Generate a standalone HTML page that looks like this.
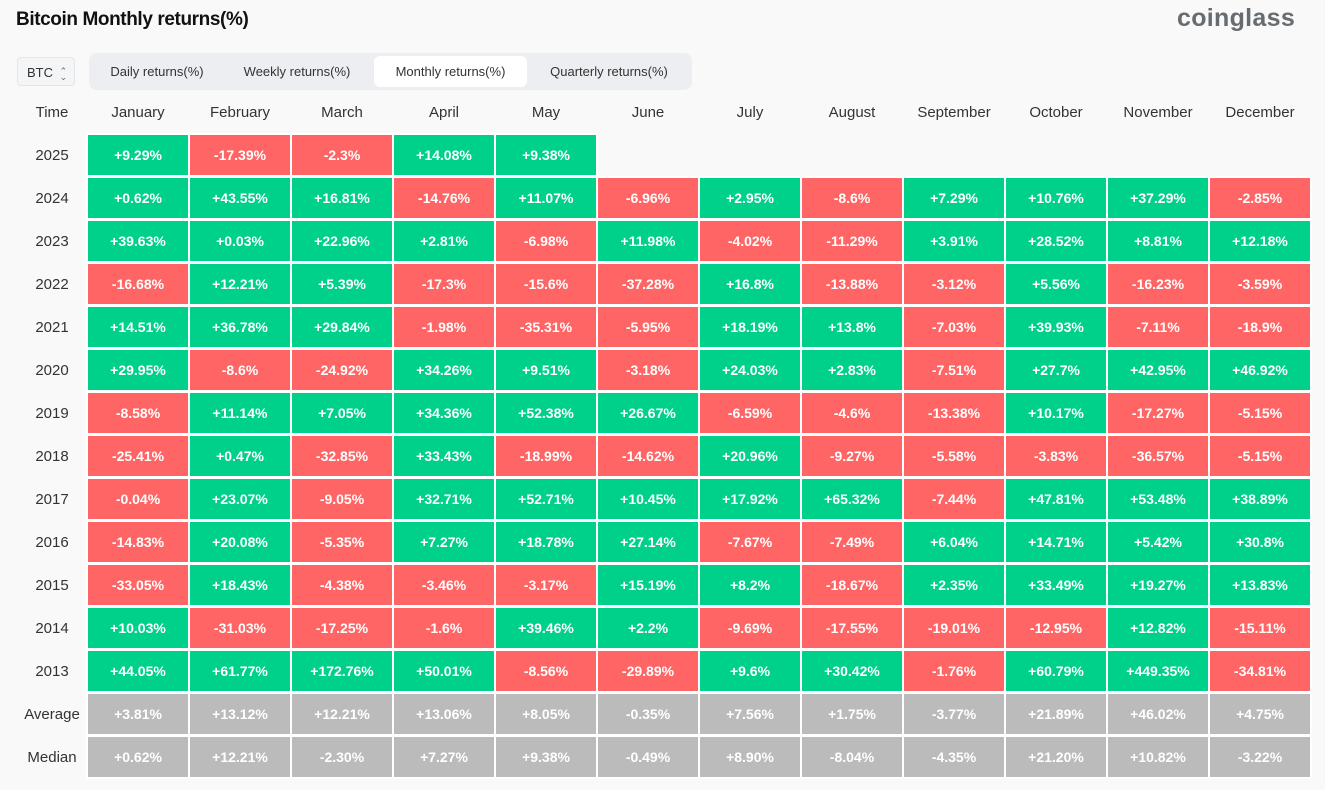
<!DOCTYPE html>
<html><head><meta charset="utf-8"><style>
body{margin:0;width:1325px;height:790px;background:#f9f9f9;font-family:"Liberation Sans",sans-serif;position:relative;overflow:hidden}
.t{position:absolute;left:16px;top:9px;font-size:19px;font-weight:bold;color:#111;letter-spacing:-0.4px}
.logo{position:absolute;left:1177px;top:4px;font-size:25px;font-weight:bold;color:#676c71;letter-spacing:0.3px}
.btc{position:absolute;left:17px;top:57px;width:58px;height:29px;border:1px solid #e3e5e8;border-radius:4px;background:#f4f5f7;font-size:13px;color:#333;line-height:29px;box-sizing:border-box;padding-left:9px}
.tabs{position:absolute;left:89px;top:53px;width:603px;height:37px;background:#eceef2;border-radius:8px}
.tab{position:absolute;top:3px;height:31px;line-height:31px;font-size:13px;color:#333;text-align:center}
.tab.a{background:#fff;border-radius:6px}
.g{position:absolute;background:#fff}
.row{position:absolute;left:0;width:1325px;height:40px}
.row div{position:absolute;top:0;height:40px;line-height:41px;width:100px;text-align:center;font-size:14px;color:#fff;font-weight:bold}
.row div.l{left:0;width:104px;color:#333;font-weight:normal;font-size:15px}
.hd div{color:#333!important;font-weight:normal!important;font-size:15px!important}
.p{background:#00d18a}.n{background:#ff6565}.m{background:#bbbbbb}
</style></head><body>
<div class="t">Bitcoin Monthly returns(%)</div>
<div class="logo">coinglass</div>
<div class="btc">BTC <span style="font-size:9px;color:#666;display:inline-block;line-height:6px;vertical-align:middle;margin-left:3px">⌃<br>⌄</span></div>
<div class="tabs">
<div class="tab" style="left:8px;width:120px">Daily returns(%)</div>
<div class="tab" style="left:138px;width:140px">Weekly returns(%)</div>
<div class="tab a" style="left:285px;width:153px">Monthly returns(%)</div>
<div class="tab" style="left:444px;width:152px">Quarterly returns(%)</div>
</div>
<div class="g" style="left:86px;top:133px;width:512px;height:46px"></div>
<div class="g" style="left:86px;top:176px;width:1226px;height:603px"></div>
<div class="row hd" style="top:92px"><div class="l">Time</div><div style="left:88px">January</div><div style="left:190px">February</div><div style="left:292px">March</div><div style="left:394px">April</div><div style="left:496px">May</div><div style="left:598px">June</div><div style="left:700px">July</div><div style="left:802px">August</div><div style="left:904px">September</div><div style="left:1006px">October</div><div style="left:1108px">November</div><div style="left:1210px">December</div></div>
<div class="row" style="top:135px"><div class="l">2025</div><div class="p" style="left:88px">+9.29%</div><div class="n" style="left:190px">-17.39%</div><div class="n" style="left:292px">-2.3%</div><div class="p" style="left:394px">+14.08%</div><div class="p" style="left:496px">+9.38%</div></div>
<div class="row" style="top:178px"><div class="l">2024</div><div class="p" style="left:88px">+0.62%</div><div class="p" style="left:190px">+43.55%</div><div class="p" style="left:292px">+16.81%</div><div class="n" style="left:394px">-14.76%</div><div class="p" style="left:496px">+11.07%</div><div class="n" style="left:598px">-6.96%</div><div class="p" style="left:700px">+2.95%</div><div class="n" style="left:802px">-8.6%</div><div class="p" style="left:904px">+7.29%</div><div class="p" style="left:1006px">+10.76%</div><div class="p" style="left:1108px">+37.29%</div><div class="n" style="left:1210px">-2.85%</div></div>
<div class="row" style="top:221px"><div class="l">2023</div><div class="p" style="left:88px">+39.63%</div><div class="p" style="left:190px">+0.03%</div><div class="p" style="left:292px">+22.96%</div><div class="p" style="left:394px">+2.81%</div><div class="n" style="left:496px">-6.98%</div><div class="p" style="left:598px">+11.98%</div><div class="n" style="left:700px">-4.02%</div><div class="n" style="left:802px">-11.29%</div><div class="p" style="left:904px">+3.91%</div><div class="p" style="left:1006px">+28.52%</div><div class="p" style="left:1108px">+8.81%</div><div class="p" style="left:1210px">+12.18%</div></div>
<div class="row" style="top:264px"><div class="l">2022</div><div class="n" style="left:88px">-16.68%</div><div class="p" style="left:190px">+12.21%</div><div class="p" style="left:292px">+5.39%</div><div class="n" style="left:394px">-17.3%</div><div class="n" style="left:496px">-15.6%</div><div class="n" style="left:598px">-37.28%</div><div class="p" style="left:700px">+16.8%</div><div class="n" style="left:802px">-13.88%</div><div class="n" style="left:904px">-3.12%</div><div class="p" style="left:1006px">+5.56%</div><div class="n" style="left:1108px">-16.23%</div><div class="n" style="left:1210px">-3.59%</div></div>
<div class="row" style="top:307px"><div class="l">2021</div><div class="p" style="left:88px">+14.51%</div><div class="p" style="left:190px">+36.78%</div><div class="p" style="left:292px">+29.84%</div><div class="n" style="left:394px">-1.98%</div><div class="n" style="left:496px">-35.31%</div><div class="n" style="left:598px">-5.95%</div><div class="p" style="left:700px">+18.19%</div><div class="p" style="left:802px">+13.8%</div><div class="n" style="left:904px">-7.03%</div><div class="p" style="left:1006px">+39.93%</div><div class="n" style="left:1108px">-7.11%</div><div class="n" style="left:1210px">-18.9%</div></div>
<div class="row" style="top:350px"><div class="l">2020</div><div class="p" style="left:88px">+29.95%</div><div class="n" style="left:190px">-8.6%</div><div class="n" style="left:292px">-24.92%</div><div class="p" style="left:394px">+34.26%</div><div class="p" style="left:496px">+9.51%</div><div class="n" style="left:598px">-3.18%</div><div class="p" style="left:700px">+24.03%</div><div class="p" style="left:802px">+2.83%</div><div class="n" style="left:904px">-7.51%</div><div class="p" style="left:1006px">+27.7%</div><div class="p" style="left:1108px">+42.95%</div><div class="p" style="left:1210px">+46.92%</div></div>
<div class="row" style="top:393px"><div class="l">2019</div><div class="n" style="left:88px">-8.58%</div><div class="p" style="left:190px">+11.14%</div><div class="p" style="left:292px">+7.05%</div><div class="p" style="left:394px">+34.36%</div><div class="p" style="left:496px">+52.38%</div><div class="p" style="left:598px">+26.67%</div><div class="n" style="left:700px">-6.59%</div><div class="n" style="left:802px">-4.6%</div><div class="n" style="left:904px">-13.38%</div><div class="p" style="left:1006px">+10.17%</div><div class="n" style="left:1108px">-17.27%</div><div class="n" style="left:1210px">-5.15%</div></div>
<div class="row" style="top:436px"><div class="l">2018</div><div class="n" style="left:88px">-25.41%</div><div class="p" style="left:190px">+0.47%</div><div class="n" style="left:292px">-32.85%</div><div class="p" style="left:394px">+33.43%</div><div class="n" style="left:496px">-18.99%</div><div class="n" style="left:598px">-14.62%</div><div class="p" style="left:700px">+20.96%</div><div class="n" style="left:802px">-9.27%</div><div class="n" style="left:904px">-5.58%</div><div class="n" style="left:1006px">-3.83%</div><div class="n" style="left:1108px">-36.57%</div><div class="n" style="left:1210px">-5.15%</div></div>
<div class="row" style="top:479px"><div class="l">2017</div><div class="n" style="left:88px">-0.04%</div><div class="p" style="left:190px">+23.07%</div><div class="n" style="left:292px">-9.05%</div><div class="p" style="left:394px">+32.71%</div><div class="p" style="left:496px">+52.71%</div><div class="p" style="left:598px">+10.45%</div><div class="p" style="left:700px">+17.92%</div><div class="p" style="left:802px">+65.32%</div><div class="n" style="left:904px">-7.44%</div><div class="p" style="left:1006px">+47.81%</div><div class="p" style="left:1108px">+53.48%</div><div class="p" style="left:1210px">+38.89%</div></div>
<div class="row" style="top:522px"><div class="l">2016</div><div class="n" style="left:88px">-14.83%</div><div class="p" style="left:190px">+20.08%</div><div class="n" style="left:292px">-5.35%</div><div class="p" style="left:394px">+7.27%</div><div class="p" style="left:496px">+18.78%</div><div class="p" style="left:598px">+27.14%</div><div class="n" style="left:700px">-7.67%</div><div class="n" style="left:802px">-7.49%</div><div class="p" style="left:904px">+6.04%</div><div class="p" style="left:1006px">+14.71%</div><div class="p" style="left:1108px">+5.42%</div><div class="p" style="left:1210px">+30.8%</div></div>
<div class="row" style="top:565px"><div class="l">2015</div><div class="n" style="left:88px">-33.05%</div><div class="p" style="left:190px">+18.43%</div><div class="n" style="left:292px">-4.38%</div><div class="n" style="left:394px">-3.46%</div><div class="n" style="left:496px">-3.17%</div><div class="p" style="left:598px">+15.19%</div><div class="p" style="left:700px">+8.2%</div><div class="n" style="left:802px">-18.67%</div><div class="p" style="left:904px">+2.35%</div><div class="p" style="left:1006px">+33.49%</div><div class="p" style="left:1108px">+19.27%</div><div class="p" style="left:1210px">+13.83%</div></div>
<div class="row" style="top:608px"><div class="l">2014</div><div class="p" style="left:88px">+10.03%</div><div class="n" style="left:190px">-31.03%</div><div class="n" style="left:292px">-17.25%</div><div class="n" style="left:394px">-1.6%</div><div class="p" style="left:496px">+39.46%</div><div class="p" style="left:598px">+2.2%</div><div class="n" style="left:700px">-9.69%</div><div class="n" style="left:802px">-17.55%</div><div class="n" style="left:904px">-19.01%</div><div class="n" style="left:1006px">-12.95%</div><div class="p" style="left:1108px">+12.82%</div><div class="n" style="left:1210px">-15.11%</div></div>
<div class="row" style="top:651px"><div class="l">2013</div><div class="p" style="left:88px">+44.05%</div><div class="p" style="left:190px">+61.77%</div><div class="p" style="left:292px">+172.76%</div><div class="p" style="left:394px">+50.01%</div><div class="n" style="left:496px">-8.56%</div><div class="n" style="left:598px">-29.89%</div><div class="p" style="left:700px">+9.6%</div><div class="p" style="left:802px">+30.42%</div><div class="n" style="left:904px">-1.76%</div><div class="p" style="left:1006px">+60.79%</div><div class="p" style="left:1108px">+449.35%</div><div class="n" style="left:1210px">-34.81%</div></div>
<div class="row" style="top:694px"><div class="l">Average</div><div class="m" style="left:88px">+3.81%</div><div class="m" style="left:190px">+13.12%</div><div class="m" style="left:292px">+12.21%</div><div class="m" style="left:394px">+13.06%</div><div class="m" style="left:496px">+8.05%</div><div class="m" style="left:598px">-0.35%</div><div class="m" style="left:700px">+7.56%</div><div class="m" style="left:802px">+1.75%</div><div class="m" style="left:904px">-3.77%</div><div class="m" style="left:1006px">+21.89%</div><div class="m" style="left:1108px">+46.02%</div><div class="m" style="left:1210px">+4.75%</div></div>
<div class="row" style="top:737px"><div class="l">Median</div><div class="m" style="left:88px">+0.62%</div><div class="m" style="left:190px">+12.21%</div><div class="m" style="left:292px">-2.30%</div><div class="m" style="left:394px">+7.27%</div><div class="m" style="left:496px">+9.38%</div><div class="m" style="left:598px">-0.49%</div><div class="m" style="left:700px">+8.90%</div><div class="m" style="left:802px">-8.04%</div><div class="m" style="left:904px">-4.35%</div><div class="m" style="left:1006px">+21.20%</div><div class="m" style="left:1108px">+10.82%</div><div class="m" style="left:1210px">-3.22%</div></div>
</body></html>
